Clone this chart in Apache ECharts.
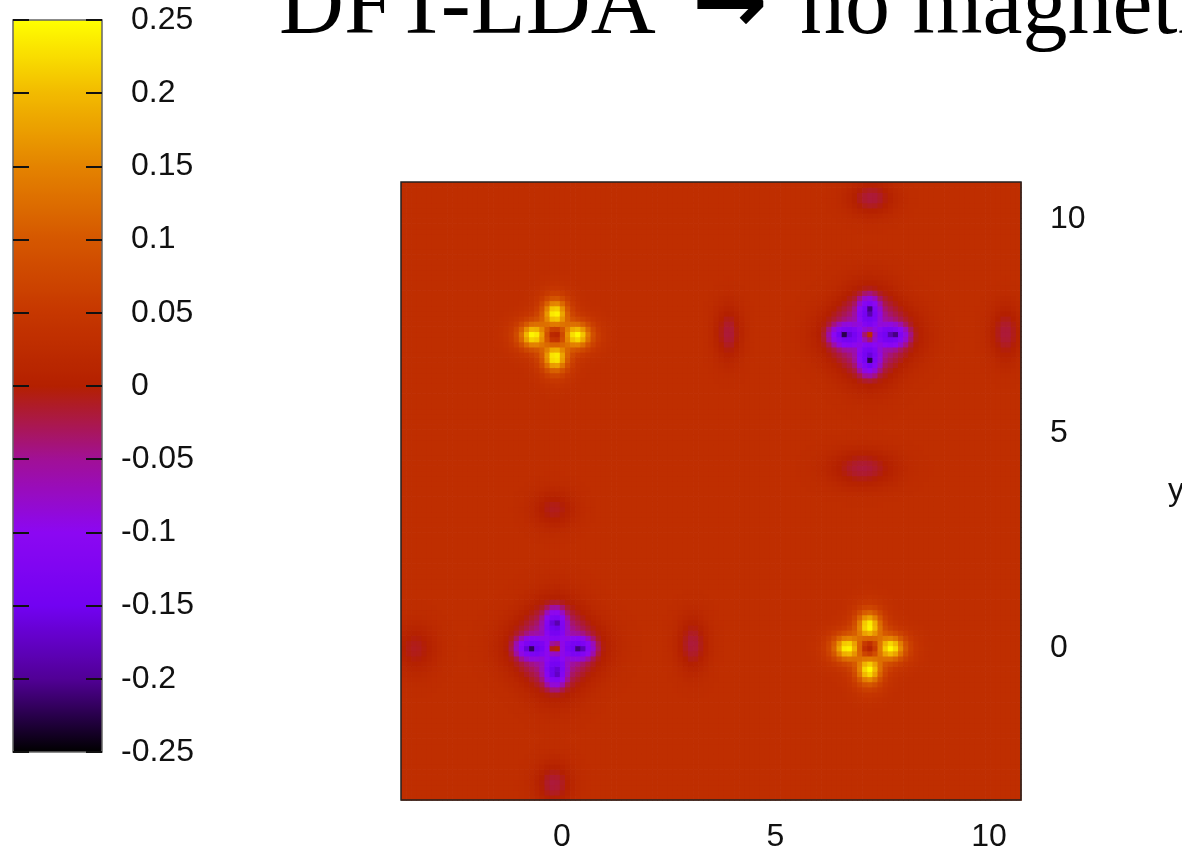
<!DOCTYPE html>
<html>
<head>
<meta charset="utf-8">
<script src="https://cdn.jsdelivr.net/npm/echarts@6/dist/echarts.min.js"></script>
<style>
  html, body { margin: 0; padding: 0; background: #ffffff; }
  #chart { width: 1182px; height: 849px; }
</style>
</head>
<body>
<div id="chart"></div>
<script>
// ---------------- data ----------------
const titleText = 'DFT-LDA {a|→} no magnetism';
const yAxisName = 'y';
const xTickValues = [0, 5, 10];
const yTickValues = [0, 5, 10];
const xRange = [-3.77, 10.75];
const yRange = [-3.54, 10.86];
const colorRange = [-0.25, 0.25];
const colorTickStep = 0.05;
const cellSize = 0.12;            // resolution of the map (data units)
const backgroundValue = 0.03;     // plain red-orange area

// four-lobed features: two bright (yellow) and two dark (purple)
const crossX       = [-0.16, 7.19, -0.16, 7.19];
const crossY       = [ 7.30, 0.02,  0.02, 7.30];
const lobeOffset   = [ 0.52, 0.52,  0.58, 0.58];
const lobeAmp      = [ 0.15, 0.15, -0.08, -0.08];
const lobeRadial   = [ 0.19, 0.19,  0.33, 0.33];
const lobeTangent  = [ 0.17, 0.17,  0.24, 0.24];
const lobeFlatness = [ 2,    2,     4,    4   ];   // 2 = round peak, 4 = flat-topped
const haloAmp      = [ 0.06, 0.06, -0.055, -0.055];
const haloRadial   = [ 0.35, 0.35,  0.50, 0.50];
const haloTangent  = [ 0.28, 0.28,  0.45, 0.45];
const coreAmp      = [ 0.00, 0.00, -0.10, -0.10];
const coreRadial   = [ 0.07, 0.07,  0.07, 0.07];
const coreTangent  = [ 0.045, 0.045, 0.045, 0.045];
const centreAmp    = [-0.12, -0.12, 0.12, 0.12];
const centreWidth  = [ 0.15, 0.15,  0.08, 0.08];

// faint purple patches
const blobX  = [ 7.24, 3.90, 10.39, 7.05, -0.19, -3.44, 3.06, -0.19];
const blobY  = [10.50, 7.35,  7.35, 4.20,  3.25,  0.00, 0.10, -3.15];
const blobAmp = [-0.05, -0.05, -0.05, -0.05, -0.04, -0.04, -0.05, -0.05];
const blobSx = [ 0.38, 0.22, 0.25, 0.55, 0.35, 0.35, 0.25, 0.30];
const blobSy = [ 0.28, 0.45, 0.45, 0.30, 0.30, 0.40, 0.45, 0.35];

// gnuplot default palette (black - purple - red - orange - yellow)
const paletteColors = ['#000000', '#510096', '#7202f2', '#8c07f2', '#a11096',
                       '#b42000', '#c63700', '#d55700', '#e48300', '#f2ba00', '#ffff00'];

// ---------------- build the table for the library ----------------
function g(dx, dy, sx, sy, p) {
  const q = dx * dx / (sx * sx) + dy * dy / (sy * sy);
  return Math.exp(-0.5 * Math.pow(q, (p || 2) / 2));
}
function fieldAt(x, y) {
  let v = backgroundValue;
  for (let k = 0; k < crossX.length; k++) {
    const d = lobeOffset[k];
    const lobes = [[d, 0, 1], [-d, 0, 1], [0, d, 0], [0, -d, 0]];
    for (const [ox, oy, horiz] of lobes) {
      const dx = x - (crossX[k] + ox), dy = y - (crossY[k] + oy);
      const pick = (r, t) => horiz ? [r, t] : [t, r];
      let s = pick(lobeRadial[k], lobeTangent[k]);
      v += lobeAmp[k] * g(dx, dy, s[0], s[1], lobeFlatness[k]);
      s = pick(haloRadial[k], haloTangent[k]);
      v += haloAmp[k] * g(dx, dy, s[0], s[1]);
      s = pick(coreRadial[k], coreTangent[k]);
      v += coreAmp[k] * g(dx, dy, s[0], s[1]);
    }
    v += centreAmp[k] * g(x - crossX[k], y - crossY[k], centreWidth[k], centreWidth[k]);
  }
  for (let i = 0; i < blobX.length; i++) {
    v += blobAmp[i] * g(x - blobX[i], y - blobY[i], blobSx[i], blobSy[i]);
  }
  return Math.max(colorRange[0], Math.min(colorRange[1], v));
}
const nx = Math.round((xRange[1] - xRange[0]) / cellSize);
const ny = Math.round((yRange[1] - yRange[0]) / cellSize);
const stepX = (xRange[1] - xRange[0]) / nx;
const stepY = (yRange[1] - yRange[0]) / ny;
const cells = [];
for (let i = 0; i < nx; i++) {
  for (let j = 0; j < ny; j++) {
    const x = xRange[0] + (i + 0.5) * stepX;
    const y = yRange[0] + (j + 0.5) * stepY;
    cells.push([x, y, fieldAt(x, y)]);
  }
}

// ---------------- chart ----------------
const chart = echarts.init(document.getElementById('chart'), null, { renderer: 'canvas' });
const labelFont = 'Liberation Sans';
const option = {
  animation: false,
  backgroundColor: '#ffffff',
  title: {
    text: titleText,
    left: 274,
    top: -41,
    textStyle: {
      fontFamily: 'Liberation Serif', fontSize: 90, fontWeight: 'normal', color: '#000',
      rich: { a: { fontFamily: 'DejaVu Sans', fontWeight: 'bold', fontSize: 90, color: '#000',
                   padding: [0, 10, 0, 14] } }
    }
  },
  grid: [
    { left: 401, top: 182, width: 620, height: 618, show: true, borderColor: '#222', borderWidth: 1.5,
      backgroundColor: 'transparent', z: 5, outerBoundsMode: 'none', containLabel: false },
    { left: 13, top: 20, width: 89, height: 732, show: true, borderColor: '#666', borderWidth: 1.5,
      backgroundColor: 'transparent', z: 10, outerBoundsMode: 'none', containLabel: false }
  ],
  xAxis: [
    { type: 'value', gridIndex: 0, min: xRange[0], max: xRange[1], position: 'bottom',
      axisLine: { show: false }, axisTick: { show: false }, splitLine: { show: false },
      axisLabel: { customValues: xTickValues, fontFamily: labelFont, fontSize: 32, color: '#111', margin: 21 } },
    { type: 'value', gridIndex: 1, min: 0, max: 1, show: false }
  ],
  yAxis: [
    { type: 'value', gridIndex: 0, min: yRange[0], max: yRange[1], position: 'right',
      axisLine: { show: false }, axisTick: { show: false }, splitLine: { show: false },
      axisLabel: { customValues: yTickValues, fontFamily: labelFont, fontSize: 32, color: '#111', margin: 29 },
      name: yAxisName, nameLocation: 'middle', nameGap: 147, nameRotate: 0,
      nameTextStyle: { fontFamily: labelFont, fontSize: 32, color: '#111', align: 'left' } },
    { type: 'value', gridIndex: 1, min: colorRange[0], max: colorRange[1], interval: colorTickStep,
      position: 'left', z: 10,
      axisLine: { show: false }, splitLine: { show: false }, axisLabel: { show: false },
      axisTick: { show: true, inside: true, length: 16, lineStyle: { color: '#111', width: 2 } } },
    { type: 'value', gridIndex: 1, min: colorRange[0], max: colorRange[1], interval: colorTickStep,
      position: 'right', z: 10,
      axisLine: { show: false }, splitLine: { show: false },
      axisTick: { show: true, inside: true, length: 16, lineStyle: { color: '#111', width: 2 } },
      axisLabel: { margin: 29, fontFamily: labelFont, fontSize: 32, color: '#111',
        formatter: v => (v >= -1e-9 ? String(Math.round(v * 100) / 100) : '') } },
    { type: 'value', gridIndex: 1, min: colorRange[0], max: colorRange[1], interval: colorTickStep,
      position: 'right', z: 10,
      axisLine: { show: false }, splitLine: { show: false }, axisTick: { show: false },
      axisLabel: { margin: 19, fontFamily: labelFont, fontSize: 32, color: '#111',
        formatter: v => (v < -1e-9 ? String(Math.round(v * 100) / 100) : '') } }
  ],
  visualMap: {
    type: 'continuous',
    min: colorRange[0], max: colorRange[1],
    dimension: 2, seriesIndex: 0,
    calculable: false, realtime: false,
    left: -2, top: 5, itemWidth: 89, itemHeight: 732,
    text: null, showLabel: false, hoverLink: false,
    inRange: { color: paletteColors }
  },
  series: [{
    type: 'custom',
    coordinateSystem: 'cartesian2d',
    xAxisIndex: 0, yAxisIndex: 0,
    clip: true,
    silent: true,
    data: cells,
    encode: { x: 0, y: 1 },
    renderItem: function (params, api) {
      const x = api.value(0), y = api.value(1);
      const p0 = api.coord([x - stepX / 2, y + stepY / 2]);
      const p1 = api.coord([x + stepX / 2, y - stepY / 2]);
      return {
        type: 'rect',
        shape: { x: p0[0], y: p0[1], width: p1[0] - p0[0] + 0.7, height: p1[1] - p0[1] + 0.7 },
        style: { fill: api.visual('color') }
      };
    }
  }]
};
chart.setOption(option);
</script>
</body>
</html>
